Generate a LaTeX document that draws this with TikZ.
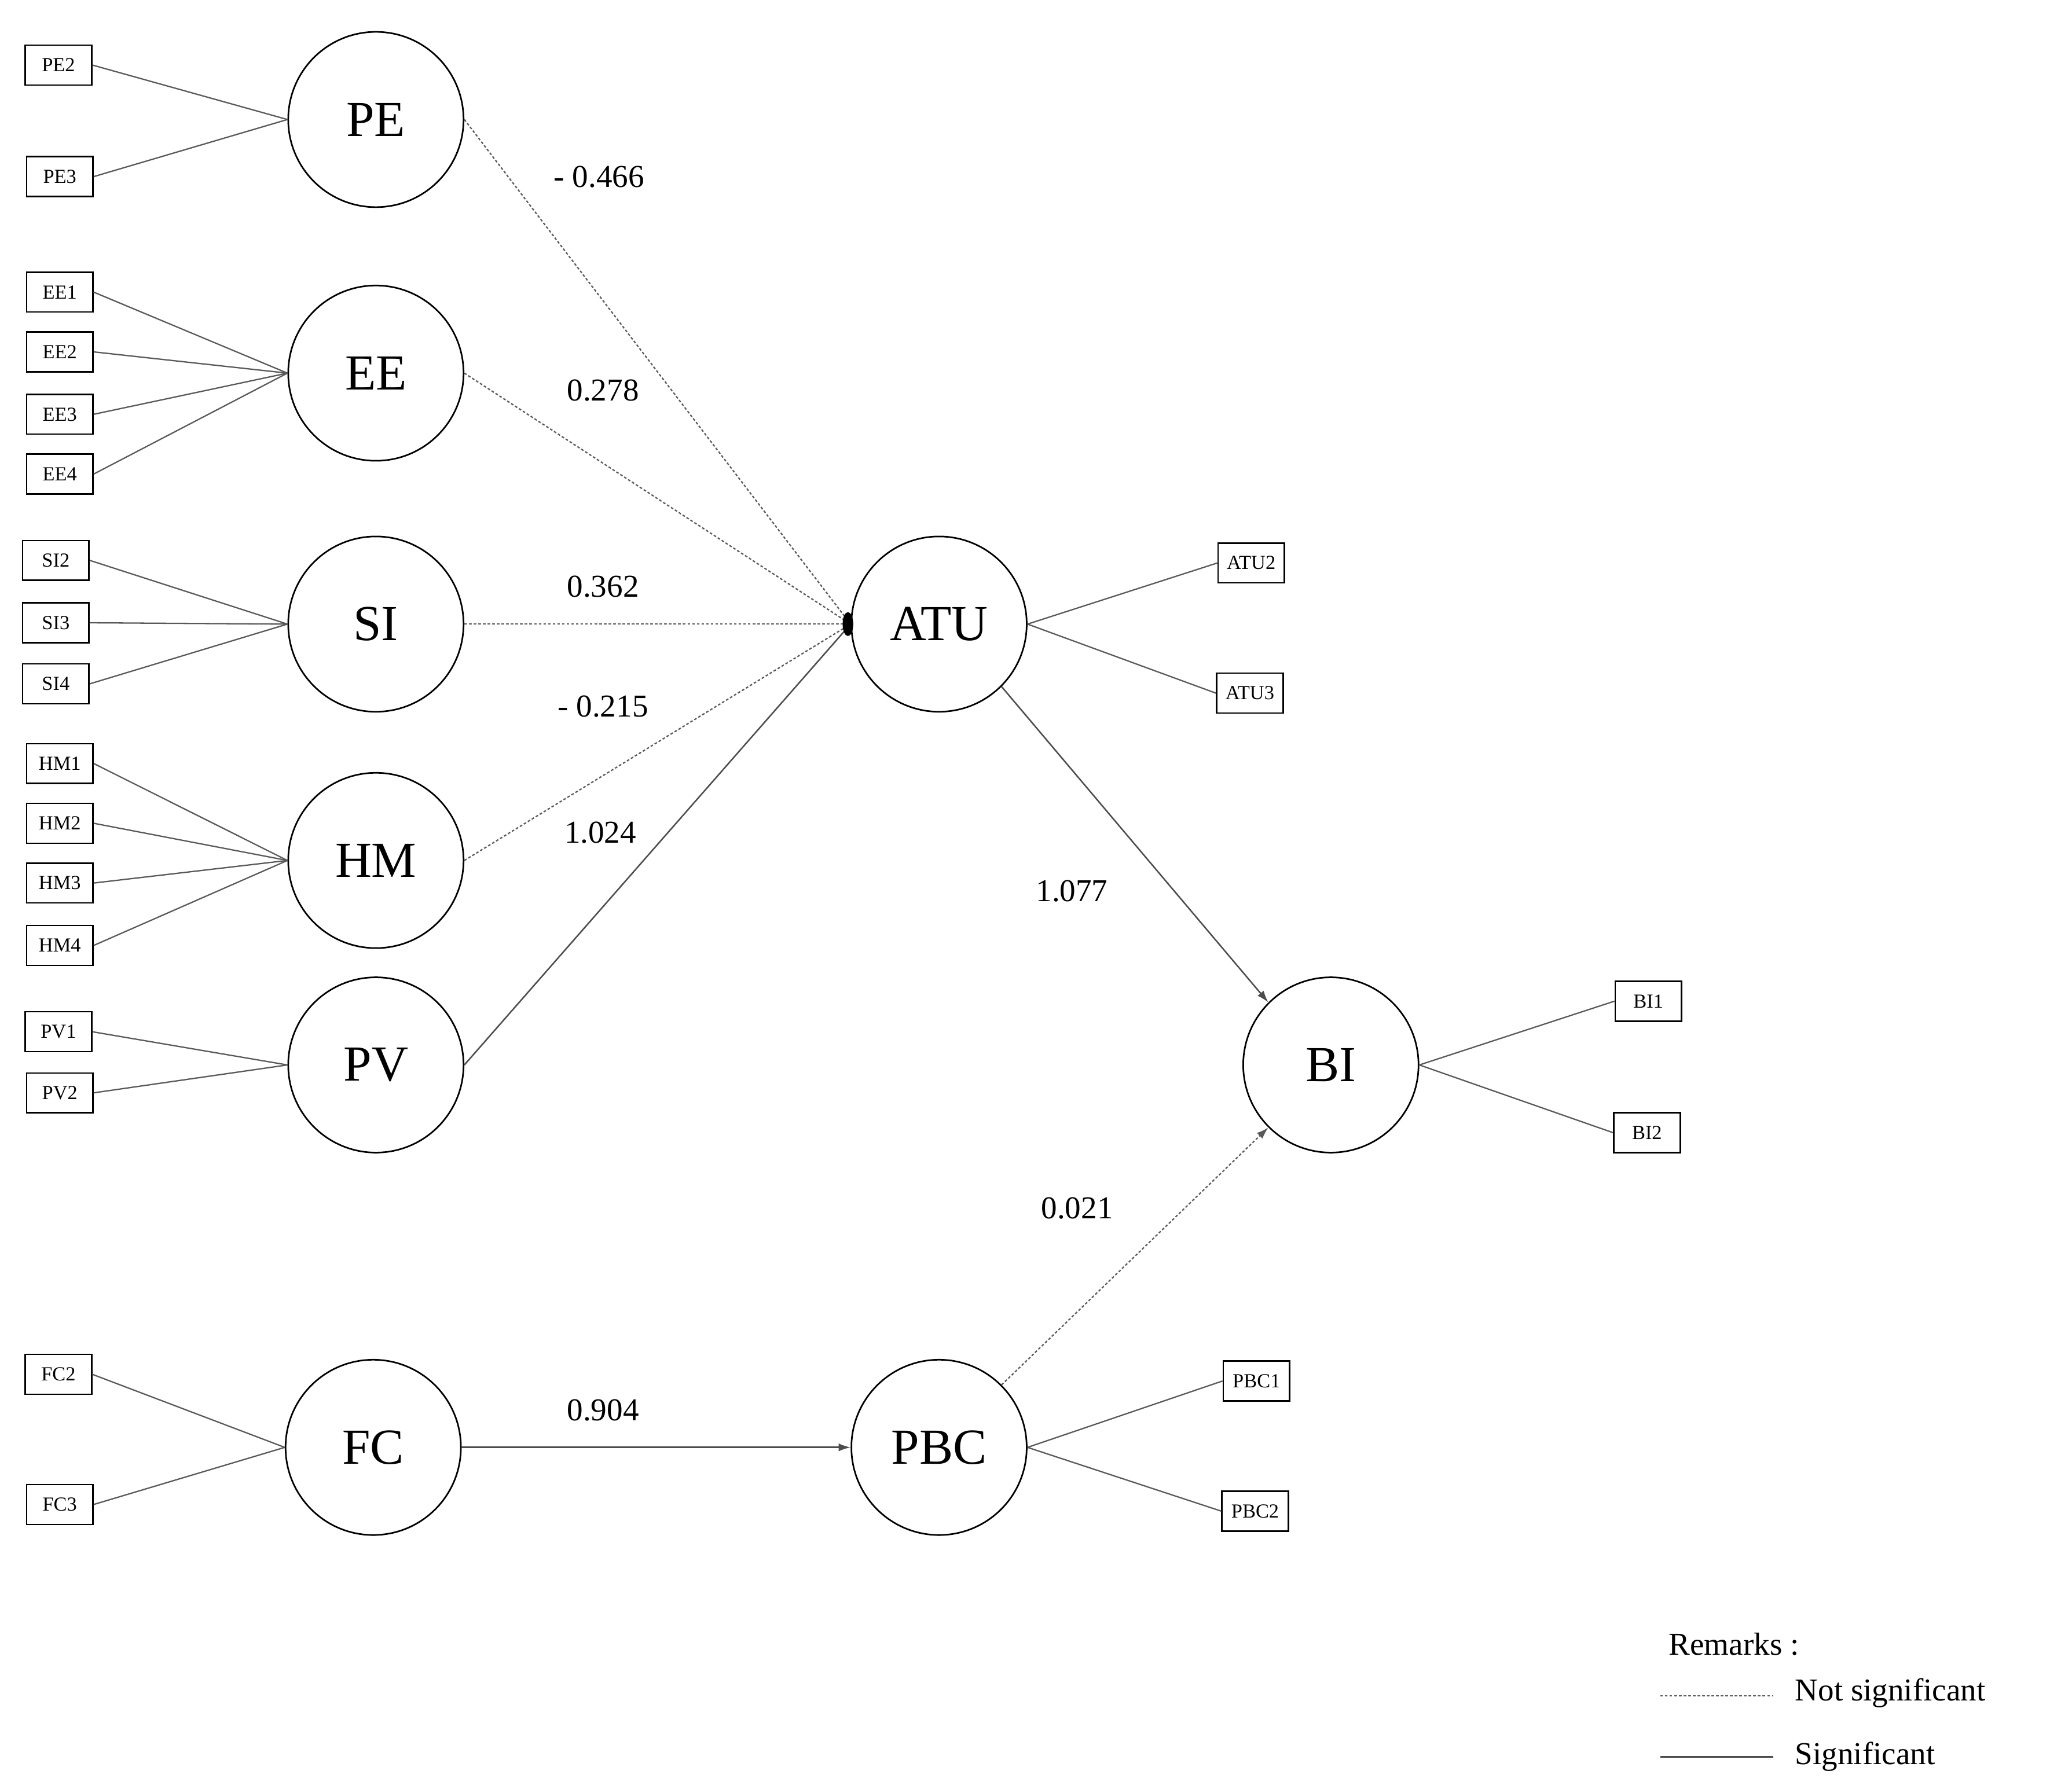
\documentclass[tikz,border=0pt]{standalone}
\usepackage{fontspec}
\setmainfont{Liberation Serif}
\usetikzlibrary{arrows.meta}
\begin{document}
\begin{tikzpicture}[x=1pt,y=-1pt,
  lat/.style={circle,draw,line width=1.2pt,minimum size=132pt,inner sep=0pt,font=\fontsize{38}{40}\selectfont},
  ind/.style={draw,line width=1.1pt,minimum width=50pt,minimum height=30pt,inner sep=0pt,font=\fontsize{15}{16}\selectfont},
  ld/.style={gray!70!black,line width=1pt},
  ns/.style={gray!70!black,line width=1pt,dash pattern=on 2pt off 1.5pt},
  sg/.style={gray!60!black,line width=1.1pt},
  coef/.style={font=\fontsize{24}{26}\selectfont},
  arr/.style={-{Latex[length=9pt,width=6pt]}}]
\useasboundingbox (0,0) rectangle (1560,1347);
\node[lat] (PE) at (283,90) {PE};
\node[lat] (EE) at (283,281) {EE};
\node[lat] (SI) at (283,470) {SI};
\node[lat] (HM) at (283,648) {HM};
\node[lat] (PV) at (283,802) {PV};
\node[lat] (FC) at (281,1090) {FC};
\node[lat] (ATU) at (707,470) {ATU};
\node[lat] (PBC) at (707,1090) {PBC};
\node[lat] (BI) at (1002,802) {BI};
\foreach \n/\x/\y/\c in {PE2/44/49/PE,PE3/45/133/PE,EE1/45/220/EE,EE2/45/265/EE,EE3/45/312/EE,EE4/45/357/EE,
  SI2/42/422/SI,SI3/42/469/SI,SI4/42/515/SI,HM1/45/575/HM,HM2/45/620/HM,HM3/45/665/HM,HM4/45/712/HM,
  PV1/44/777/PV,PV2/45/823/PV,FC2/44/1035/FC,FC3/45/1133/FC}{
  \node[ind] (\n) at (\x,\y) {\n};
  \draw[ld] (\n.east) -- (\c.west);
}
\foreach \n/\x/\y/\c in {ATU2/942/424/ATU,ATU3/941/522/ATU,BI1/1241/754/BI,BI2/1240/853/BI,PBC1/946/1040/PBC,PBC2/945/1138/PBC}{
  \node[ind] (\n) at (\x,\y) {\n};
  \draw[ld] (\c.east) -- (\n.west);
}
\draw[ns] (PE.east) -- (ATU.west);
\draw[ns] (EE.east) -- (ATU.west);
\draw[ns] (SI.east) -- (ATU.west);
\draw[ns] (HM.east) -- (ATU.west);
\draw[sg] (PV.east) -- (ATU.west);
\fill ([xshift=-2pt]ATU.west) ellipse (4pt and 9pt);
\draw[sg,arr] (ATU.-45) -- (BI.135);
\draw[ns,arr] (PBC.45) -- (BI.-135);
\draw[sg,arr] (FC.east) -- (PBC.west);
\node[coef] (c1) at (451,133) {- 0.466};
\node[coef] (c2) at (454,294) {0.278};
\node[coef] (c3) at (454,442) {0.362};
\node[coef] (c4) at (454,532) {- 0.215};
\node[coef] (c5) at (452,627) {1.024};
\node[coef] (c6) at (807,671) {1.077};
\node[coef] (c7) at (811,910) {0.021};
\node[coef] (c8) at (454,1062) {0.904};
\node[coef,anchor=west] (rm) at (1253,1238) {Remarks :};
\coordinate (n1) at (1250,1277); \coordinate (n2) at (1335,1277);
\coordinate (s1) at (1250,1323); \coordinate (s2) at (1335,1323);
\draw[ns] (n1) -- (n2);
\draw[sg] (s1) -- (s2);
\node[coef,anchor=west] (t1) at (1348,1275) {Not significant};
\node[coef,anchor=west] (t2) at (1348,1323) {Significant};
\end{tikzpicture}
\end{document}
